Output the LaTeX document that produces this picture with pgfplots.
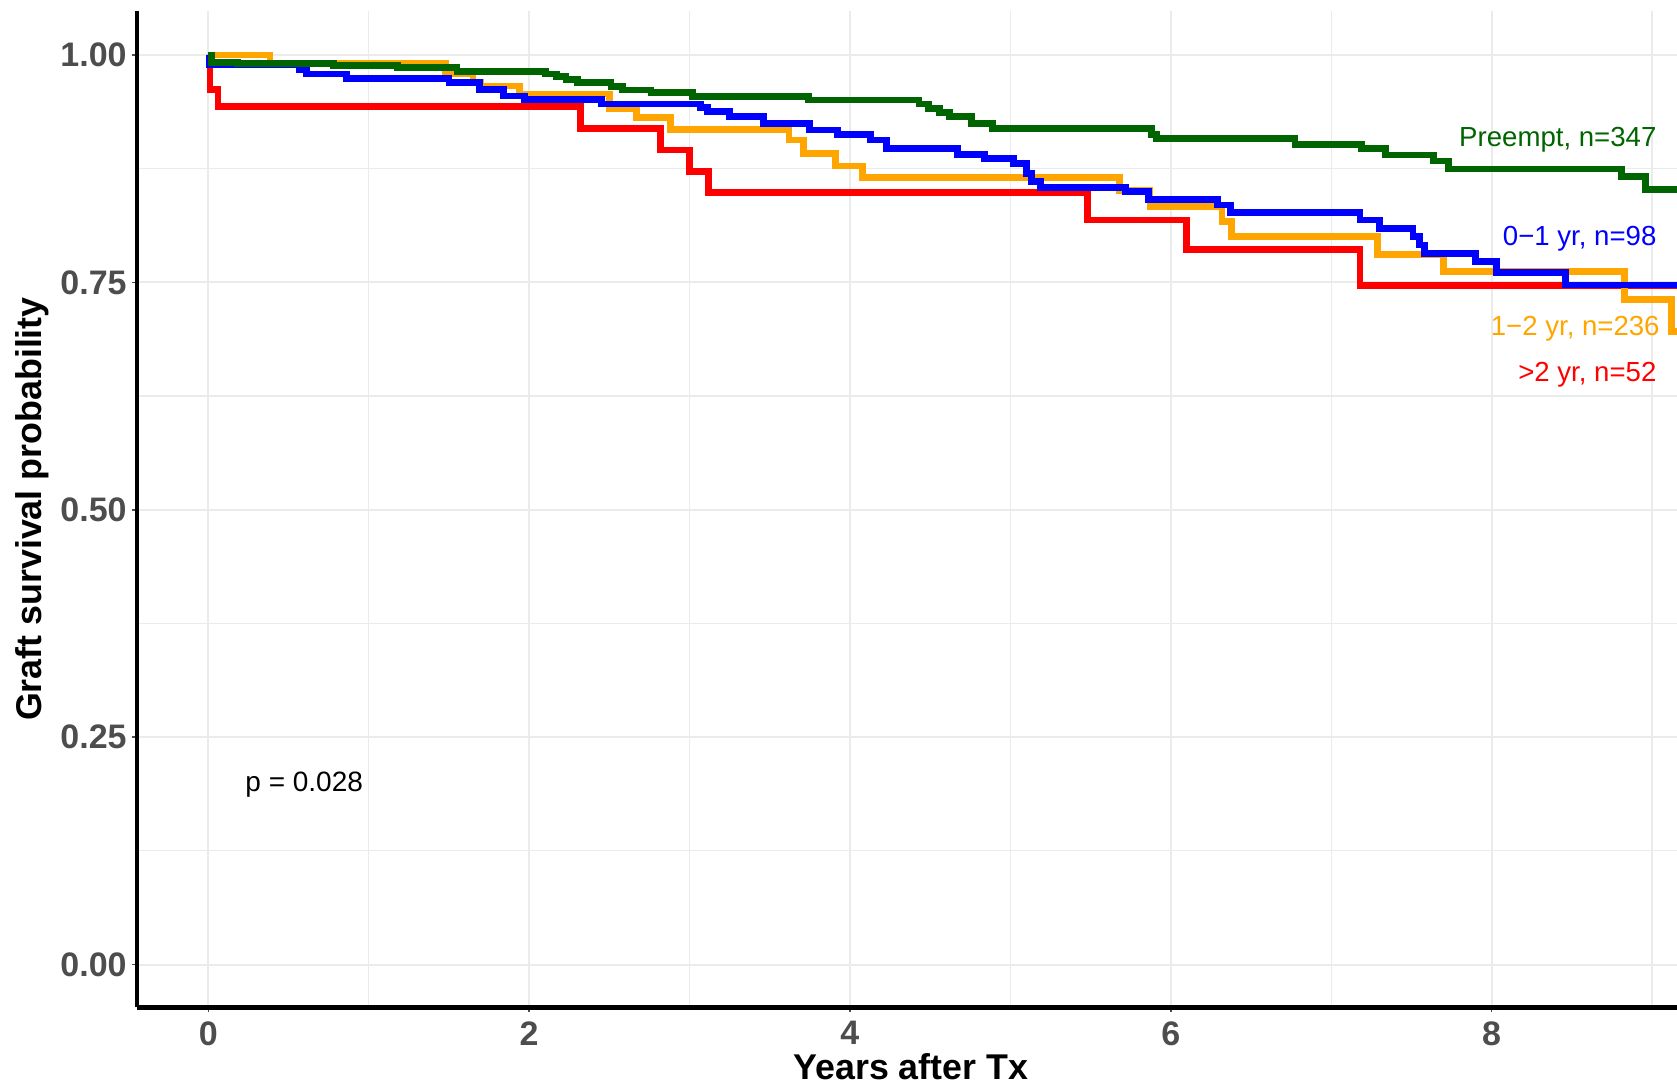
\documentclass[border=0pt]{standalone}
\usepackage{fontspec}
\setmainfont{Liberation Sans}
\usepackage{pgfplots}
\pgfplotsset{compat=1.18}

\definecolor{tickgrey}{HTML}{4D4D4D}
\definecolor{gridgrey}{HTML}{EBEBEB}
\definecolor{kmgreen}{HTML}{006400}
\definecolor{kmblue}{HTML}{0000FF}
\definecolor{kmorange}{HTML}{FFA500}
\definecolor{kmred}{HTML}{FF0000}

\begin{document}
\begin{tikzpicture}
  \begin{axis}[
      at={(0,0)}, anchor=south west,
      scale only axis,
      width=770pt, height=498.4pt,
      xmin=-0.4445, xmax=9.156,
      ymin=-0.0472, ymax=1.0487,
      axis lines*=left,
      axis line style={black, line width=2.2pt},
      xtick={0,2,4,6,8},
      ytick={0,0.25,0.5,0.75,1},
      yticklabels={0.00,0.25,0.50,0.75,1.00},
      minor xtick={1,3,5,7,9},
      minor ytick={0.125,0.375,0.625,0.875},
      minor tick length=0pt,
      major tick length=2.5pt,
      tick align=outside,
      tick style={tickgrey, line width=0.8pt},
      grid=both,
      major grid style={gridgrey, line width=1pt},
      minor grid style={gridgrey, line width=0.6pt},
      /pgf/number format/assume math mode=true,
      ticklabel style={font=\fontsize{17}{17}\selectfont\bfseries, text=tickgrey, inner sep=0pt},
      yticklabel style={anchor=east},
      xticklabel style={anchor=north},
      yticklabel shift=2.5pt,
      xticklabel shift=4.3pt,
      xlabel={Years after Tx},
      ylabel={Graft survival probability},
      label style={font=\fontsize{17.9}{17.9}\selectfont\bfseries, text=black, inner sep=0pt},
      xlabel style={at={(axis description cs:0.5025,-0.0725)}, anchor=base},
      ylabel style={at={(axis description cs:-0.062,0.5)}, anchor=base, rotate=0},
      every axis plot/.append style={const plot mark left, no marks, line width=3.4pt},
    ]
    % >2 yr
    \addplot[kmred] coordinates {
      (0,1) (0.01,0.962) (0.06,0.943) (2.32,0.919) (2.82,0.8956)
      (3.00,0.872) (3.12,0.8486) (5.48,0.8186) (6.10,0.7864)
      (7.18,0.7464) (9.3,0.7464)
    };
    % 1-2 yr
    \addplot[kmorange] coordinates {
      (0,1) (0.385,0.9905) (1.48,0.979) (1.65,0.970) (1.70,0.966)
      (1.94,0.957) (2.50,0.941) (2.67,0.931) (2.88,0.918) (3.62,0.9066)
      (3.71,0.892) (3.91,0.878) (4.08,0.8655) (5.68,0.851) (5.87,0.8333)
      (6.32,0.8167) (6.38,0.800) (7.29,0.781) (7.70,0.762) (8.83,0.7314)
      (9.12,0.696) (9.3,0.696)
    };
    % 0-1 yr
    \addplot[kmblue] coordinates {
      (0,1) (0.005,0.9895) (0.57,0.984) (0.61,0.979) (0.86,0.974)
      (1.50,0.970) (1.69,0.962) (1.84,0.955) (1.97,0.951) (2.45,0.946)
      (3.07,0.942) (3.11,0.938) (3.25,0.932) (3.46,0.925) (3.75,0.9175)
      (3.92,0.913) (4.13,0.9066) (4.23,0.897) (4.67,0.891) (4.84,0.886)
      (5.02,0.881) (5.10,0.870) (5.13,0.861) (5.19,0.854) (5.72,0.850)
      (5.86,0.841) (6.29,0.835) (6.37,0.8266) (7.18,0.8186) (7.30,0.8095)
      (7.51,0.800) (7.55,0.791) (7.58,0.782) (7.90,0.7728) (8.03,0.7607)
      (8.46,0.7471) (9.3,0.7471)
    };
    % Preempt
    \addplot[kmgreen] coordinates {
      (0,1) (0.02,0.992) (0.18,0.9905) (0.78,0.988) (1.18,0.986)
      (1.55,0.982) (2.10,0.979) (2.17,0.976) (2.23,0.973) (2.30,0.9696)
      (2.51,0.965) (2.58,0.9615) (2.76,0.959) (3.02,0.954) (3.74,0.9505)
      (4.43,0.946) (4.49,0.941) (4.56,0.937) (4.62,0.932) (4.76,0.925)
      (4.89,0.919) (5.88,0.913) (5.91,0.9084) (6.775,0.9018) (7.19,0.897)
      (7.34,0.890) (7.64,0.8835) (7.73,0.8747) (8.81,0.866) (8.96,0.8523)
      (9.3,0.8523)
    };

    \begin{scope}[every node/.style={inner sep=0pt, anchor=base east, font=\fontsize{13.8}{13.8}\selectfont}]
      \node[text=kmgreen]  at (axis cs:9.03,0.899) {Preempt, n=347};
      \node[text=kmblue]   at (axis cs:9.03,0.790) {0−1 yr, n=98};
      \node[text=kmorange] at (axis cs:9.05,0.692) {1−2 yr, n=236};
      \node[text=kmred]    at (axis cs:9.03,0.641) {>2 yr, n=52};
    \end{scope}
    \node[inner sep=0pt, anchor=base west, font=\fontsize{14}{14}\selectfont] at (axis cs:0.229,0.190) {p = 0.028};

    \coordinate (bl) at (rel axis cs:0,0);
    \coordinate (tr) at (rel axis cs:1,1);
  \end{axis}
  \pgfresetboundingbox
  \path[use as bounding box] ([shift={(-68.5pt,-39.25pt)}]bl) rectangle ([shift={(0pt,5.35pt)}]tr);
\end{tikzpicture}
\end{document}
